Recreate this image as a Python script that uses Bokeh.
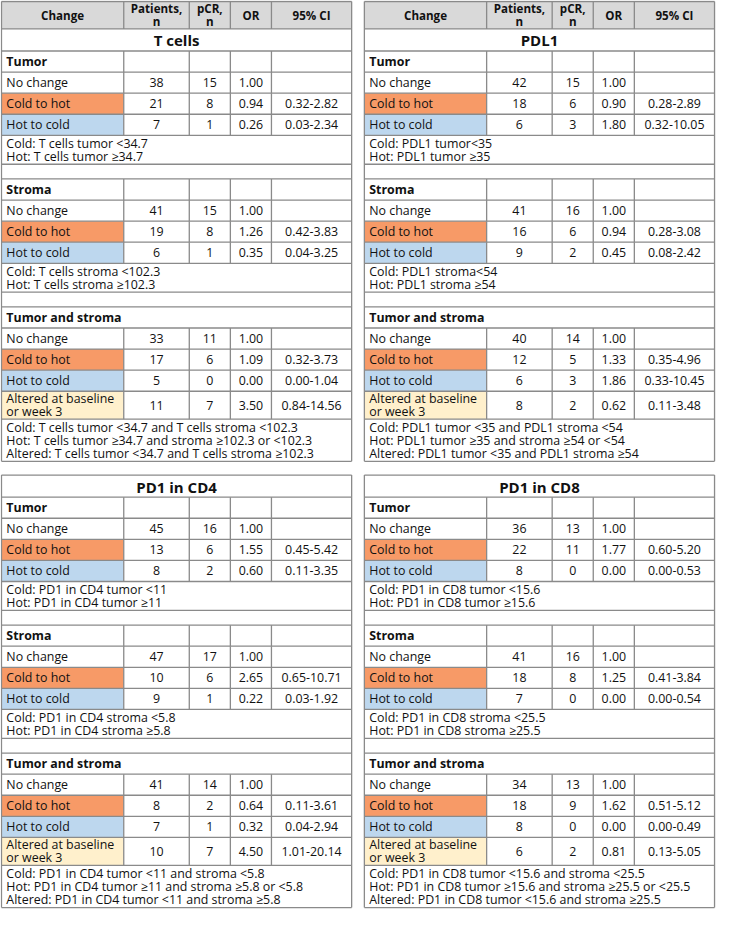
from bokeh.plotting import figure
from bokeh.models import Range1d, ColumnDataSource
from bokeh.core.properties import value
from bokeh.embed import file_html
from bokeh.resources import INLINE

# ---------------- data ----------------
PANELS = ["T cells", "PDL1", "PD1 in CD4", "PD1 in CD8"]
SECTIONS = ["Tumor", "Stroma", "Tumor and stroma"]
CHANGES = ["No change", "Cold to hot", "Hot to cold", "Altered at baseline\nor week 3"]
HEADERS = ["Change", "Patients,\nn", "pCR,\nn", "OR", "95% CI"]

patients_tcells = [[38, 21, 7], [41, 19, 6], [33, 17, 5, 11]]
pcr_tcells = [[15, 8, 1], [15, 8, 1], [11, 6, 0, 7]]
or_tcells = [[1.00, 0.94, 0.26], [1.00, 1.26, 0.35], [1.00, 1.09, 0.00, 3.50]]
ci_tcells = [["", "0.32-2.82", "0.03-2.34"], ["", "0.42-3.83", "0.04-3.25"],
             ["", "0.32-3.73", "0.00-1.04", "0.84-14.56"]]
notes_tcells = ["Cold: T cells tumor <34.7\nHot: T cells tumor \u226534.7",
                "Cold: T cells stroma <102.3\nHot: T cells stroma \u2265102.3",
                "Cold: T cells tumor <34.7 and T cells stroma <102.3\n"
                "Hot: T cells tumor \u226534.7 and stroma \u2265102.3 or <102.3\n"
                "Altered: T cells tumor <34.7 and T cells stroma \u2265102.3"]

patients_pdl1 = [[42, 18, 6], [41, 16, 9], [40, 12, 6, 8]]
pcr_pdl1 = [[15, 6, 3], [16, 6, 2], [14, 5, 3, 2]]
or_pdl1 = [[1.00, 0.90, 1.80], [1.00, 0.94, 0.45], [1.00, 1.33, 1.86, 0.62]]
ci_pdl1 = [["", "0.28-2.89", "0.32-10.05"], ["", "0.28-3.08", "0.08-2.42"],
           ["", "0.35-4.96", "0.33-10.45", "0.11-3.48"]]
notes_pdl1 = ["Cold: PDL1 tumor<35\nHot: PDL1 tumor \u226535",
              "Cold: PDL1 stroma<54\nHot: PDL1 stroma \u226554",
              "Cold: PDL1 tumor <35 and PDL1 stroma <54\n"
              "Hot: PDL1 tumor \u226535 and stroma \u226554 or <54\n"
              "Altered: PDL1 tumor <35 and PDL1 stroma \u226554"]

patients_cd4 = [[45, 13, 8], [47, 10, 9], [41, 8, 7, 10]]
pcr_cd4 = [[16, 6, 2], [17, 6, 1], [14, 2, 1, 7]]
or_cd4 = [[1.00, 1.55, 0.60], [1.00, 2.65, 0.22], [1.00, 0.64, 0.32, 4.50]]
ci_cd4 = [["", "0.45-5.42", "0.11-3.35"], ["", "0.65-10.71", "0.03-1.92"],
          ["", "0.11-3.61", "0.04-2.94", "1.01-20.14"]]
notes_cd4 = ["Cold: PD1 in CD4 tumor <11\nHot: PD1 in CD4 tumor \u226511",
             "Cold: PD1 in CD4 stroma <5.8\nHot: PD1 in CD4 stroma \u22655.8",
             "Cold: PD1 in CD4 tumor <11 and stroma <5.8\n"
             "Hot: PD1 in CD4 tumor \u226511 and stroma \u22655.8 or <5.8\n"
             "Altered: PD1 in CD4 tumor <11 and stroma \u22655.8"]

patients_cd8 = [[36, 22, 8], [41, 18, 7], [34, 18, 8, 6]]
pcr_cd8 = [[13, 11, 0], [16, 8, 0], [13, 9, 0, 2]]
or_cd8 = [[1.00, 1.77, 0.00], [1.00, 1.25, 0.00], [1.00, 1.62, 0.00, 0.81]]
ci_cd8 = [["", "0.60-5.20", "0.00-0.53"], ["", "0.41-3.84", "0.00-0.54"],
          ["", "0.51-5.12", "0.00-0.49", "0.13-5.05"]]
notes_cd8 = ["Cold: PD1 in CD8 tumor <15.6\nHot: PD1 in CD8 tumor \u226515.6",
             "Cold: PD1 in CD8 stroma <25.5\nHot: PD1 in CD8 stroma \u226525.5",
             "Cold: PD1 in CD8 tumor <15.6 and stroma <25.5\n"
             "Hot: PD1 in CD8 tumor \u226515.6 and stroma \u226525.5 or <25.5\n"
             "Altered: PD1 in CD8 tumor <15.6 and stroma \u226525.5"]

PATIENTS = [patients_tcells, patients_pdl1, patients_cd4, patients_cd8]
PCR = [pcr_tcells, pcr_pdl1, pcr_cd4, pcr_cd8]
ORS = [or_tcells, or_pdl1, or_cd4, or_cd8]
CIS = [ci_tcells, ci_pdl1, ci_cd4, ci_cd8]
NOTES = [notes_tcells, notes_pdl1, notes_cd4, notes_cd8]

# ---------------- layout / style ----------------
COL_W = [125, 67, 42, 42, 82]
PANEL_X = [1, 372, 1, 372]
PANEL_Y = [1, 1, 484, 484]
PANEL_HEADER = [True, True, False, False]
HEADER_H, TITLE_H, SEC_H, ROW_H, ALT_H, BLANK_H = 28, 22.5, 21.5, 21.5, 28.5, 15
NOTE_LH = 13.5
CHANGE_FILL = [None, "#F79A67", "#BDD7EE", "#FFF0CC"]
HEAD_FILL = "#D9D9D9"
FONT = "Open Sans"
FS, FS_HEAD, FS_TITLE = "12.4px", "11.6px", "15px"

fills = dict(left=[], right=[], top=[], bottom=[], color=[])
hseg = dict(x0=[], x1=[], y=[])
vseg = dict(x=[], y0=[], y1=[])
txt = dict(x=[], y=[], text=[], align=[], style=[], size=[])


def add_text(x, y, s, align="left", style="normal", size=FS):
    txt["x"].append(x); txt["y"].append(y); txt["text"].append(s)
    txt["align"].append(align); txt["style"].append(style); txt["size"].append(size)


def add_lines(x, top, bottom, lines, align, style, size, lh):
    n = len(lines)
    mid = (top + bottom) / 2
    for i, s in enumerate(lines):
        add_text(x, mid + (i - (n - 1) / 2) * lh, s, align, style, size)


for pi in range(4):
    x0, y = PANEL_X[pi], PANEL_Y[pi]
    xb = [x0]
    for w in COL_W:
        xb.append(xb[-1] + w)
    L, R = xb[0], xb[-1]
    cx = [(xb[i] + xb[i + 1]) / 2 for i in range(5)]
    start = y
    hl = [y]
    vrows = []
    if PANEL_HEADER[pi]:
        y1 = y + HEADER_H
        fills["left"].append(L); fills["right"].append(R)
        fills["top"].append(y); fills["bottom"].append(y1); fills["color"].append(HEAD_FILL)
        for ci, h in enumerate(HEADERS):
            add_lines(cx[ci], y, y1, h.split("\n"), "center", "bold", FS_HEAD, 13.5)
        vrows.append((y, y1))
        y = y1; hl.append(y)
    y1 = y + TITLE_H
    add_text((L + R) / 2, (y + y1) / 2 + 0.5, PANELS[pi], "center", "bold", FS_TITLE)
    y = y1; hl.append(y)
    for si, sec in enumerate(SECTIONS):
        y1 = y + SEC_H
        add_text(L + 5, (y + y1) / 2, sec, "left", "bold", FS)
        if si < 2:
            vrows.append((y, y1))
        y = y1; hl.append(y)
        n = len(PATIENTS[pi][si])
        for ri in range(n):
            h = ROW_H if ri < 3 else ALT_H
            y1 = y + h
            if CHANGE_FILL[ri]:
                fills["left"].append(L); fills["right"].append(xb[1])
                fills["top"].append(y); fills["bottom"].append(y1)
                fills["color"].append(CHANGE_FILL[ri])
            add_lines(L + 5, y, y1, CHANGES[ri].split("\n"), "left", "normal", FS, 13.2)
            add_text(cx[1], (y + y1) / 2, str(PATIENTS[pi][si][ri]), "center")
            add_text(cx[2], (y + y1) / 2, str(PCR[pi][si][ri]), "center")
            add_text(cx[3], (y + y1) / 2, "%.2f" % ORS[pi][si][ri], "center")
            add_text(cx[4], (y + y1) / 2, CIS[pi][si][ri], "center")
            vrows.append((y, y1))
            y = y1; hl.append(y)
        nl = NOTES[pi][si].split("\n")
        y1 = y + len(nl) * NOTE_LH + 2.5
        for i, s in enumerate(nl):
            add_text(L + 5, y + 1.5 + (i + 0.5) * NOTE_LH, s, "left", "normal", FS)
        y = y1; hl.append(y)
        if si < 2:
            y = y + BLANK_H; hl.append(y)
    for yy in hl:
        hseg["x0"].append(L); hseg["x1"].append(R); hseg["y"].append(yy)
    for (a, b) in vrows:
        for xx in xb[1:5]:
            vseg["x"].append(xx); vseg["y0"].append(a); vseg["y1"].append(b)
    for xx in (L, R):
        vseg["x"].append(xx); vseg["y0"].append(start); vseg["y1"].append(y)

p = figure(width=716, height=909, x_range=Range1d(0, 732), y_range=Range1d(927, 0),
           output_backend="svg", toolbar_location=None,
           x_axis_location=None, y_axis_location=None, min_border=0,
           outline_line_color=None, background_fill_color="white")
p.grid.visible = False

p.quad(left="left", right="right", top="top", bottom="bottom", fill_color="color",
       line_color=None, source=ColumnDataSource(fills))
p.segment(x0="x0", x1="x1", y0="y", y1="y", line_color="#8a8a8a", line_width=1.3,
          source=ColumnDataSource(hseg))
p.segment(x0="x", x1="x", y0="y0", y1="y1", line_color="#8a8a8a", line_width=1.3,
          source=ColumnDataSource(vseg))
p.text(x="x", y="y", text="text", text_align="align", text_font_style="style",
       text_font_size="size", text_baseline="middle", text_color="#111111",
       text_font=value(FONT), source=ColumnDataSource(txt))

open("out.html", "w").write(file_html(p, INLINE))
